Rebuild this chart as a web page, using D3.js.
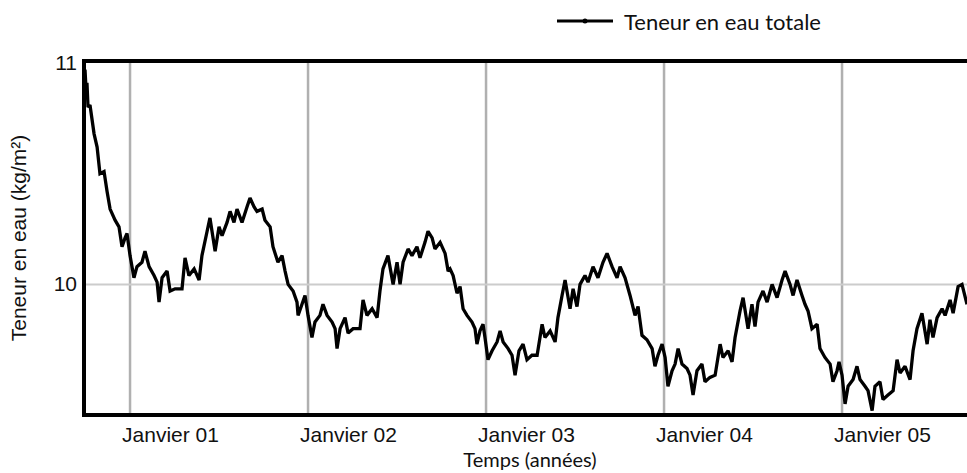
<!DOCTYPE html>
<html><head><meta charset="utf-8">
<script src="https://cdn.jsdelivr.net/npm/d3@7"></script>
<style>body{margin:0;background:#fff;} svg{display:block;}</style>
</head><body>
<svg id="chart" width="967" height="473"></svg>
<script>
// time in decimal years
const timeYears = [
  2000.747, 2000.753, 2000.758, 2000.764, 2000.775, 2000.798, 2000.815, 2000.831, 2000.854, 2000.871,
  2000.888, 2000.916, 2000.938, 2000.955, 2000.972, 2000.983, 2001.000, 2001.022, 2001.039, 2001.067,
  2001.084, 2001.107, 2001.135, 2001.152, 2001.163, 2001.180, 2001.208, 2001.225, 2001.253, 2001.292,
  2001.309, 2001.331, 2001.360, 2001.388, 2001.404, 2001.433, 2001.449, 2001.478, 2001.500, 2001.517,
  2001.545, 2001.562, 2001.584, 2001.601, 2001.629, 2001.657, 2001.674, 2001.697, 2001.713, 2001.742,
  2001.758, 2001.787, 2001.803, 2001.831, 2001.854, 2001.871, 2001.888, 2001.916, 2001.938, 2001.944,
  2001.966, 2001.983, 2002.000, 2002.022, 2002.039, 2002.067, 2002.084, 2002.107, 2002.135, 2002.152,
  2002.163, 2002.180, 2002.208, 2002.225, 2002.253, 2002.292, 2002.309, 2002.331, 2002.360, 2002.388,
  2002.404, 2002.421, 2002.449, 2002.478, 2002.500, 2002.517, 2002.534, 2002.562, 2002.584, 2002.612,
  2002.629, 2002.657, 2002.674, 2002.697, 2002.713, 2002.742, 2002.770, 2002.787, 2002.798, 2002.815,
  2002.837, 2002.854, 2002.871, 2002.893, 2002.921, 2002.938, 2002.949, 2002.966, 2002.983, 2002.994,
  2003.011, 2003.034, 2003.062, 2003.079, 2003.096, 2003.124, 2003.146, 2003.163, 2003.185, 2003.208,
  2003.230, 2003.258, 2003.287, 2003.315, 2003.331, 2003.360, 2003.388, 2003.404, 2003.427, 2003.444,
  2003.472, 2003.489, 2003.511, 2003.528, 2003.556, 2003.573, 2003.601, 2003.629, 2003.657, 2003.680,
  2003.708, 2003.736, 2003.753, 2003.781, 2003.809, 2003.837, 2003.854, 2003.876, 2003.904, 2003.933,
  2003.949, 2003.966, 2003.989, 2004.006, 2004.022, 2004.045, 2004.062, 2004.079, 2004.101, 2004.129,
  2004.146, 2004.163, 2004.185, 2004.213, 2004.230, 2004.258, 2004.287, 2004.315, 2004.331, 2004.360,
  2004.382, 2004.399, 2004.427, 2004.444, 2004.472, 2004.494, 2004.511, 2004.528, 2004.556, 2004.579,
  2004.607, 2004.635, 2004.663, 2004.680, 2004.708, 2004.725, 2004.747, 2004.775, 2004.792, 2004.809,
  2004.831, 2004.860, 2004.876, 2004.904, 2004.933, 2004.949, 2004.972, 2004.983, 2005.000, 2005.017,
  2005.034, 2005.062, 2005.084, 2005.101, 2005.129, 2005.146, 2005.169, 2005.185, 2005.213, 2005.230,
  2005.258, 2005.287, 2005.309, 2005.326, 2005.354, 2005.382, 2005.399, 2005.421, 2005.449, 2005.478,
  2005.494, 2005.511, 2005.534, 2005.562, 2005.579, 2005.607, 2005.624, 2005.652, 2005.674, 2005.702
];
// total water content (kg/m²)
const waterContent = [
  10.97, 10.88, 10.91, 10.80, 10.81, 10.68, 10.62, 10.50, 10.51, 10.42,
  10.34, 10.29, 10.26, 10.17, 10.21, 10.23, 10.13, 10.03, 10.08, 10.10,
  10.15, 10.08, 10.04, 10.01, 9.92, 10.03, 10.06, 9.97, 9.98, 9.98,
  10.12, 10.04, 10.07, 10.02, 10.13, 10.24, 10.30, 10.15, 10.26, 10.22,
  10.28, 10.33, 10.28, 10.34, 10.28, 10.35, 10.39, 10.35, 10.33, 10.34,
  10.29, 10.26, 10.17, 10.10, 10.13, 10.06, 10.00, 9.97, 9.92, 9.86,
  9.91, 9.95, 9.86, 9.76, 9.83, 9.86, 9.91, 9.86, 9.83, 9.80,
  9.71, 9.80, 9.85, 9.78, 9.80, 9.80, 9.93, 9.86, 9.89, 9.85,
  9.97, 10.07, 10.13, 10.00, 10.10, 10.00, 10.10, 10.16, 10.13, 10.17,
  10.12, 10.19, 10.24, 10.21, 10.16, 10.19, 10.14, 10.06, 10.07, 10.04,
  9.96, 9.99, 9.89, 9.86, 9.83, 9.80, 9.73, 9.79, 9.82, 9.76,
  9.66, 9.70, 9.74, 9.79, 9.74, 9.71, 9.68, 9.59, 9.70, 9.73,
  9.66, 9.68, 9.68, 9.82, 9.76, 9.79, 9.74, 9.85, 9.95, 10.02,
  9.89, 9.98, 9.90, 10.00, 10.04, 10.01, 10.08, 10.03, 10.10, 10.14,
  10.08, 10.03, 10.08, 10.03, 9.95, 9.86, 9.90, 9.77, 9.75, 9.71,
  9.63, 9.68, 9.73, 9.67, 9.54, 9.61, 9.64, 9.71, 9.64, 9.62,
  9.59, 9.50, 9.61, 9.64, 9.56, 9.58, 9.59, 9.73, 9.67, 9.70,
  9.65, 9.76, 9.88, 9.94, 9.80, 9.91, 9.81, 9.92, 9.97, 9.92,
  10.00, 9.94, 10.02, 10.06, 10.00, 9.95, 10.02, 9.95, 9.91, 9.88,
  9.80, 9.82, 9.71, 9.67, 9.64, 9.56, 9.61, 9.65, 9.59, 9.46,
  9.54, 9.57, 9.63, 9.57, 9.54, 9.52, 9.43, 9.54, 9.56, 9.48,
  9.50, 9.52, 9.66, 9.60, 9.63, 9.57, 9.70, 9.80, 9.87, 9.73,
  9.84, 9.76, 9.85, 9.89, 9.86, 9.93, 9.87, 9.99, 10.00, 9.91
];
const xTickYears = [2001, 2002, 2003, 2004, 2005];
const xTickLabels = ["Janvier 01", "Janvier 02", "Janvier 03", "Janvier 04", "Janvier 05"];
const yTickValues = [10, 11];
const yTickLabels = ["10", "11"];
const xDomain = [2000.747, 2005.702];
const yDomain = [9.41, 11];
const seriesName = "Teneur en eau totale";
const xTitle = "Temps (années)";
const yTitle = "Teneur en eau (kg/m²)";

const svg = d3.select("#chart");
const L = 85, R = 967, T = 63, B = 415;
const x = d3.scaleLinear().domain(xDomain).range([L, R]);
const y = d3.scaleLinear().domain(yDomain).range([B, T]);

svg.append("defs").append("clipPath").attr("id", "plotclip")
  .append("rect").attr("x", L).attr("y", T - 3).attr("width", R - L).attr("height", B - T + 3);

// vertical gridlines
svg.append("g").selectAll("line").data(xTickYears).join("line")
  .attr("x1", d => x(d)).attr("x2", d => x(d))
  .attr("y1", T - 2).attr("y2", B)
  .attr("stroke", "#b0b0b0").attr("stroke-width", 2.5);

// horizontal gridline(s) (not at top)
svg.append("g").selectAll("line").data(yTickValues.filter(v => v < 11)).join("line")
  .attr("x1", L).attr("x2", R)
  .attr("y1", d => y(d)).attr("y2", d => y(d))
  .attr("stroke", "#cccccc").attr("stroke-width", 2);

// data line
const line = d3.line().x((d, i) => x(timeYears[i])).y(d => y(d));
svg.append("path").datum(waterContent)
  .attr("clip-path", "url(#plotclip)")
  .attr("d", line)
  .attr("fill", "none").attr("stroke", "#000").attr("stroke-width", 3.3)
  .attr("stroke-linejoin", "miter").attr("stroke-miterlimit", 2);

// frame: top, left, bottom
svg.append("path")
  .attr("d", `M${R},${T - 2}H${L - 1}V${B}H${R}`)
  .attr("fill", "none").attr("stroke", "#000").attr("stroke-width", 4);

// x tick labels
svg.append("g").selectAll("text").data(xTickYears).join("text")
  .attr("x", d => x(d) - 8).attr("y", 442)
  .attr("font-family", "Liberation Sans, Arial, sans-serif").attr("font-size", 21)
  .attr("fill", "#111")
  .text((d, i) => xTickLabels[i]);

// y tick labels
svg.append("g").selectAll("text").data(yTickValues).join("text")
  .attr("x", 77).attr("y", d => y(d) + 7)
  .attr("text-anchor", "end")
  .attr("font-family", "Liberation Sans, Arial, sans-serif").attr("font-size", 21)
  .attr("fill", "#111")
  .text((d, i) => yTickLabels[i]);

// axis titles
svg.append("text")
  .attr("transform", "translate(26,238) rotate(-90)")
  .attr("text-anchor", "middle")
  .attr("font-family", "Liberation Sans, Arial, sans-serif").attr("font-size", 21)
  .attr("fill", "#111")
  .text(yTitle);

svg.append("text")
  .attr("x", 530).attr("y", 467)
  .attr("text-anchor", "middle")
  .attr("font-family", "Lato, sans-serif").attr("font-size", 20)
  .attr("fill", "#111")
  .text(xTitle);

// legend
const lg = svg.append("g");
lg.append("line").attr("x1", 557).attr("x2", 613).attr("y1", 21).attr("y2", 21)
  .attr("stroke", "#000").attr("stroke-width", 3);
lg.append("circle").attr("cx", 585).attr("cy", 21).attr("r", 2.5).attr("fill", "#000");
lg.append("text").attr("x", 624).attr("y", 30)
  .attr("font-family", "Lato, sans-serif").attr("font-size", 22)
  .attr("fill", "#111")
  .text(seriesName);
</script>
</body></html>
